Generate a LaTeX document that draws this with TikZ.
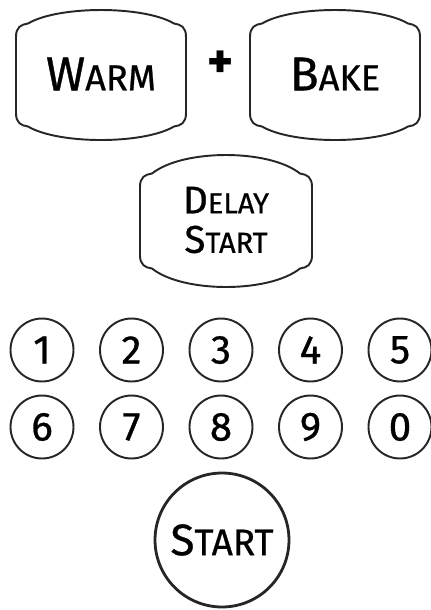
\documentclass[tikz,border=0pt]{standalone}
\usepackage{fontspec}
\setmainfont{Fira Sans}[FakeBold=0.7]

% fake small caps: big first letter, smaller rest
\newcommand{\sckey}[4]{{\fontsize{#1}{22}\selectfont #3}{\fontsize{#2}{22}\selectfont #4}}

% key outline: center x, center y, half width, half height, half side
\newcommand{\keyface}[5]{%
    \draw[keyline, shift={(#1,#2)}] (-#3,#5-10) -- (-#3,-#5+10)
        .. controls (-#3,-#5) and (-#3+5,-#5-2.5) .. (-#3+12,-#5-3.5)
        .. controls ({-#3/2},{(-#4+0.25*(#5+3.5))/0.75}) and ({#3/2},{(-#4+0.25*(#5+3.5))/0.75}) .. (#3-12,-#5-3.5)
        .. controls (#3-5,-#5-2.5) and (#3,-#5) .. (#3,-#5+10)
        -- (#3,#5-10)
        .. controls (#3,#5) and (#3-5,#5+2.5) .. (#3-12,#5+3.5)
        .. controls ({#3/2},{(#4-0.25*(#5+3.5))/0.75}) and ({-#3/2},{(#4-0.25*(#5+3.5))/0.75}) .. (-#3+12,#5+3.5)
        .. controls (-#3+5,#5+2.5) and (-#3,#5) .. cycle;}

\tikzset{
    keyline/.style={line width=1.1pt, black!85},
    digitkey/.style={circle, draw, line width=1.1pt, draw=black!85, minimum size=1.26cm,
        inner sep=0pt, font=\fontsize{23}{23}\selectfont},
    startkey/.style={circle, draw, line width=1.6pt, draw=black!85, minimum size=2.68cm,
        inner sep=0pt}
}

\begin{document}
\begin{tikzpicture}[x=0.02cm, y=-0.02cm]
    \useasboundingbox (0,0) rectangle (431,610);

    % top row
    \keyface{101}{75}{85}{65}{48}
    \keyface{335}{75}{85}{65}{48}
    \node (warm) at (101,74) {\sckey{27}{20.6}{W}{ARM}};
    \node (bake) at (335,74) {\sckey{27}{20.6}{B}{AKE}};
    \node[font=\fontsize{28}{28}\selectfont\bfseries] (plus) at (220,64) {+};

    % delay start
    \keyface{226}{221}{86}{66}{44}
    \node[align=center] (delaystart) at (226,220)
        {\sckey{22}{16.5}{D}{ELAY}\\[6pt]\sckey{22}{16.5}{S}{TART}};

    % number pad
    \foreach \n/\x/\y in {1/42/350, 2/131.5/350, 3/221/350, 4/310.5/350, 5/400/350,
                          6/42/427, 7/131.5/427, 8/221/427, 9/310.5/427, 0/400/427}
        \node[digitkey] (d\n) at (\x,\y) {\n};

    % start
    \node[startkey] (start) at (222,540) {\sckey{25}{21}{S}{TART}};
\end{tikzpicture}
\end{document}
